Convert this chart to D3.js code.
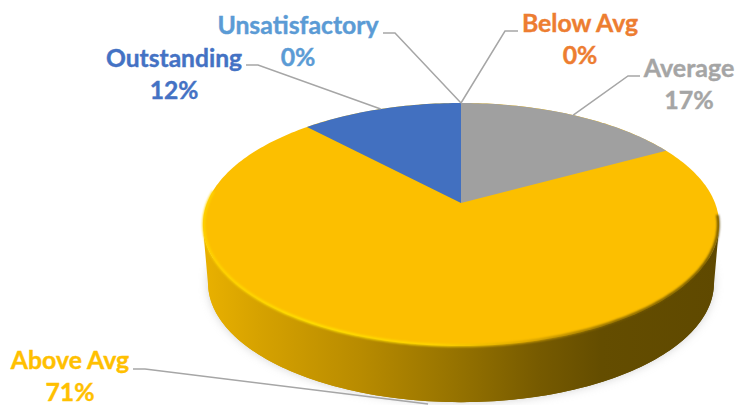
<!DOCTYPE html>
<html>
<head>
<meta charset="utf-8">
<script src="https://cdn.jsdelivr.net/npm/d3@7"></script>
<style>
html, body { margin: 0; padding: 0; background: #fff; }
svg { display: block; }
text { font-family: Lato, "Open Sans", sans-serif; font-weight: 700; }
</style>
</head>
<body>
<div id="chart"></div>
<script>
const categories = ["Unsatisfactory", "Below Avg", "Average", "Above Avg", "Outstanding"];
const percents = [0, 0, 17, 71, 12];
const colors = ["#5b9bd5", "#ed7d31", "#a0a0a0", "#fcbf00", "#4270c0"];
const textColors = ["#5b9bd5", "#ed7d31", "#a5a5a5", "#ffc000", "#4472c4"];

const width = 741, height = 405;

// pie centre, and how the flat disc gets tilted on screen
const cx = 461, cy = 203;
const tilt = 0.177, radiusX = 254, radiusY = 117.7;
const depth = 59, lowerScale = 0.98;

function project(angle, scale = 1, drop = 0) {
    const u = Math.sin(angle), v = -Math.cos(angle);
    const w = 1 - tilt * v;
    return [
        cx + scale * radiusX * u / w,
        cy + scale * radiusY * v / w + drop
    ];
}

function ring(a0, a1, scale = 1, drop = 0) {
    const n = Math.max(2, Math.ceil(Math.abs(a1 - a0) / 0.02));
    return d3.range(n + 1).map(i => project(a0 + (a1 - a0) * i / n, scale, drop));
}

const line = d3.line();

const svg = d3.select("#chart").append("svg")
    .attr("width", width)
    .attr("height", height);

const defs = svg.append("defs");

const sideGradient = defs.append("linearGradient")
    .attr("id", "sideGradient")
    .attr("gradientUnits", "userSpaceOnUse")
    .attr("x1", cx - radiusX).attr("x2", cx + radiusX + 4)
    .attr("y1", 0).attr("y2", 0);
[[0, "#e8b000"], [0.1, "#d6a200"], [0.3, "#b88b00"], [0.49, "#957200"], [0.65, "#765a00"], [0.77, "#644d00"], [1, "#5f4900"]]
    .forEach(s => sideGradient.append("stop").attr("offset", s[0]).attr("stop-color", s[1]));

const rimGradient = defs.append("linearGradient")
    .attr("id", "rimGradient")
    .attr("gradientUnits", "userSpaceOnUse")
    .attr("x1", cx - radiusX).attr("x2", cx + radiusX + 4)
    .attr("y1", 0).attr("y2", 0);
[[0, "#ffd400"], [0.2, "#ffe400"], [0.45, "#ffd800"], [0.62, "#d9a500"], [0.8, "#7a5e00"], [1, "#5f4900"]]
    .forEach(s => rimGradient.append("stop").attr("offset", s[0]).attr("stop-color", s[1]));

defs.append("filter").attr("id", "soft").append("feGaussianBlur").attr("stdDeviation", 0.8);
defs.append("filter").attr("id", "shadow")
    .attr("x", "-10%").attr("y", "-10%").attr("width", "120%").attr("height", "120%")
    .append("feGaussianBlur").attr("stdDeviation", 5);

const full = Math.PI * 2;
const quarter = Math.PI / 2;

// faint shadow under the disc
svg.append("path")
    .attr("d", line(ring(0, full, lowerScale, depth)) + "Z")
    .attr("fill", "#a8a8a8")
    .attr("opacity", 0.5)
    .attr("filter", "url(#shadow)");

// side wall, the front half of the disc pulled down
const lower = ring(quarter + 0.2, full - quarter - 0.2, lowerScale, depth);
const upper = ring(quarter + 0.2, full - quarter - 0.2);
svg.append("path")
    .attr("d", line(ring(0, full, lowerScale, depth)) + "Z")
    .attr("fill", "url(#sideGradient)");
svg.append("path")
    .attr("d", line(upper.concat(lower.slice().reverse())) + "Z")
    .attr("fill", "url(#sideGradient)");

// slices on top, via d3.pie
const pie = d3.pie().sort(null).value(d => d);
const slices = pie(percents);

svg.append("path")
    .attr("d", line(ring(0, full)) + "Z")
    .attr("fill", colors[3]);

// bevel along the front edge
svg.append("path")
    .attr("d", line(ring(quarter + 0.1, full - quarter + 0.1, 0.997)))
    .attr("fill", "none")
    .attr("stroke", "url(#rimGradient)")
    .attr("stroke-width", 2.5)
    .attr("filter", "url(#soft)");

svg.append("g").selectAll("path")
    .data(slices.filter(d => d.value > 0 && d.index !== 3))
    .join("path")
    .attr("d", d => line([[cx, cy]].concat(ring(d.startAngle, d.endAngle))) + "Z")
    .attr("fill", d => colors[d.index]);

// label anchor, elbow and text position per category
const labelX = [298, 580, 689, 70, 174];
const labelY = [34, 32, 77, 369, 67];
const labelSize = [24.8, 24.8, 25, 24.8, 24.6];
const elbowX = [395, 505, 628, 145, 258];
const elbowY = [33, 31, 76, 369, 65];
const tailX = [383, 518, 640, 133, 246];
const endNudge = [0, 0, 0, -0.05, 0];

const leaders = svg.append("g")
    .attr("fill", "none")
    .attr("stroke", "#a6a6a6")
    .attr("stroke-width", 1.5);

slices.forEach((d, i) => {
    const mid = (d.startAngle + d.endAngle) / 2 + endNudge[i];
    const front = Math.cos(mid) < 0;
    const end = project(mid, 1, front ? depth : 0);
    leaders.append("path")
        .attr("d", line([[tailX[i], elbowY[i]], [elbowX[i], elbowY[i]], end]));
});

const labels = svg.append("g")
    .attr("text-anchor", "middle")
    .attr("stroke-width", 0.4);

categories.forEach((name, i) => {
    labels.append("text")
        .attr("x", labelX[i])
        .attr("y", labelY[i])
        .attr("font-size", labelSize[i])
        .attr("fill", textColors[i])
        .attr("stroke", textColors[i])
        .text(name);
    labels.append("text")
        .attr("x", labelX[i])
        .attr("y", labelY[i] + 32)
        .attr("font-size", labelSize[i])
        .attr("fill", textColors[i])
        .attr("stroke", textColors[i])
        .text(percents[i] + "%");
});
</script>
</body>
</html>
